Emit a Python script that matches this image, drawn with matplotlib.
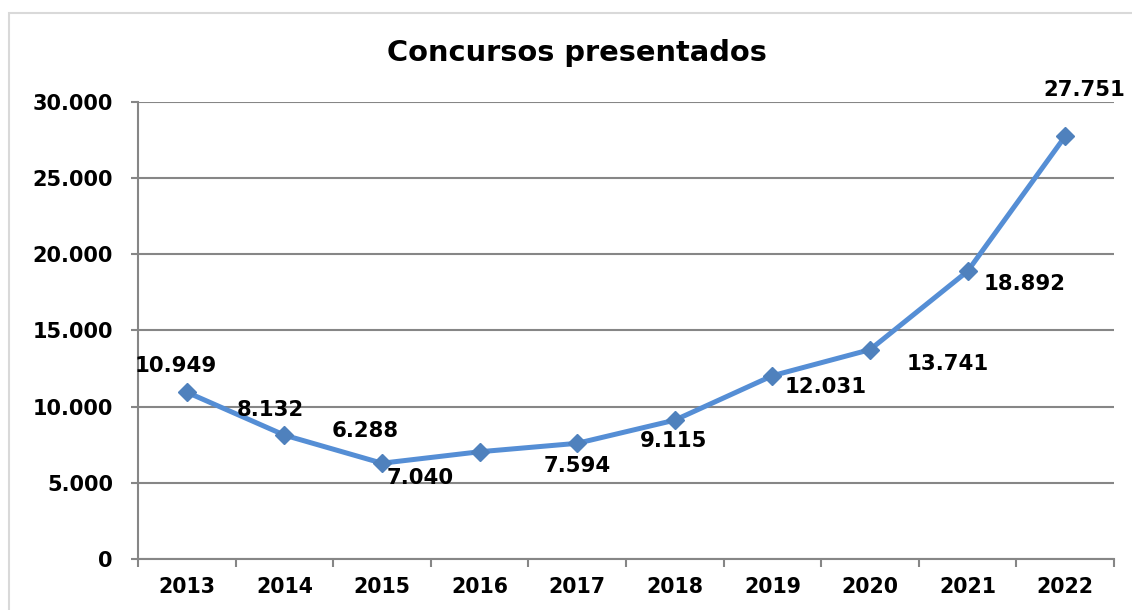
import matplotlib
matplotlib.use("Agg")
from matplotlib import pyplot as plt
from matplotlib.patches import Rectangle

years = ["2013", "2014", "2015", "2016", "2017", "2018", "2019", "2020", "2021", "2022"]
values = [10949, 8132, 6288, 7040, 7594, 9115, 12031, 13741, 18892, 27751]
# offsets (points) for the value labels, as placed in the original
label_offsets = [(-8, 19), (-10, 18), (-12, 23), (-43, -19), (0, -16), (-1, -15),
                 (38, -8), (56, -10), (41, -9), (14, 33)]

plt.rcParams["font.family"] = ["DejaVu Sans"]
plt.rcParams["font.weight"] = "bold"

fig = plt.figure(figsize=(11.32, 6.1), dpi=100)
ax = fig.add_axes([0.1219, 0.0836, 0.8622, 0.7492])

# chart frame: only top and left edges are inside the picture
fig.patches.append(Rectangle((0.008, -0.05), 1.1, 1.0287, transform=fig.transFigure,
                             fill=False, edgecolor="#d9d9d9", linewidth=1.5))

x = list(range(len(years)))
ax.plot(x, values, color="#558ed5", linewidth=3.6, marker="D", markersize=9.5,
        markerfacecolor="#4f81bd", markeredgecolor="#4f81bd", zorder=3)

for i, v in enumerate(values):
    lbl = f"{v:,}".replace(",", ".")
    ax.annotate(lbl, (i, v), xytext=label_offsets[i], textcoords="offset points",
                ha="center", va="center", fontsize=15.3, fontweight="bold", color="black")

ax.set_xlim(-0.5, len(years) - 0.5)
ax.set_ylim(0, 30000)
ax.set_yticks(range(0, 30001, 5000))
ax.set_yticklabels([f"{t:,}".replace(",", ".") for t in range(0, 30001, 5000)])
ax.set_xticks(x)
ax.set_xticklabels(years)
ax.set_xticks([i + 0.5 for i in range(-1, len(years))], minor=True)
ax.tick_params(axis="x", which="major", length=0, pad=13, labelsize=14.8)
ax.tick_params(axis="x", which="minor", length=6, width=1.5, color="#868686")
ax.tick_params(axis="y", length=5, width=1.5, color="#868686", labelsize=15, pad=13)
for lab in ax.get_xticklabels() + ax.get_yticklabels():
    lab.set_fontweight("bold")

ax.grid(axis="y", color="#868686", linewidth=1.5)
ax.set_axisbelow(True)
for s in ["top", "right"]:
    ax.spines[s].set_visible(False)
for s in ["left", "bottom"]:
    ax.spines[s].set_color("#868686")
    ax.spines[s].set_linewidth(1.5)

fig.text(0.51, 0.913, "Concursos presentados", ha="center", va="center",
         fontsize=20.8, fontweight="bold")

fig.savefig("out.png", dpi=100)
